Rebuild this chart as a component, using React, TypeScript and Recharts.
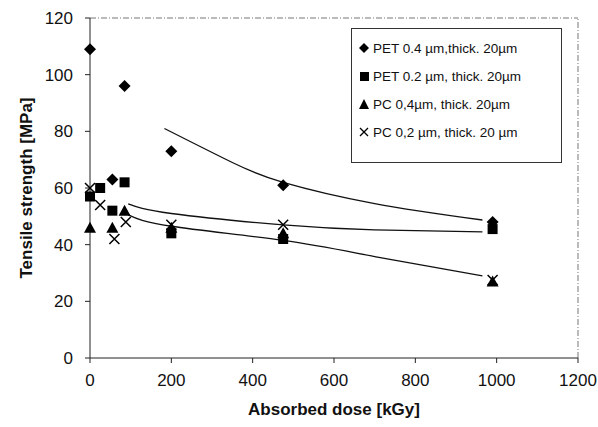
import { ComposedChart, Scatter, Line, XAxis, YAxis, ReferenceLine } from 'recharts';

const pet04Dose = [0, 55, 85, 200, 475, 990];
const pet04Strength = [109, 63, 96, 73, 61, 48];

const pet02Dose = [0, 25, 55, 85, 200, 475, 990];
const pet02Strength = [57, 60, 52, 62, 44, 42, 45.5];

const pc04Dose = [0, 55, 85, 200, 475, 990];
const pc04Strength = [46, 46, 52, 46, 44, 27];

const pc02Dose = [0, 25, 60, 88, 200, 475, 990];
const pc02Strength = [60, 54, 42, 48, 47, 47, 27.5];

// trend lines as drawn in the figure
const trendTopDose = [183, 350, 475, 700, 965];
const trendTopValue = [81, 69, 62, 54.5, 48.7];
const trendMidDose = [94, 200, 475, 700, 965];
const trendMidValue = [54.4, 51, 47, 45.2, 44.5];
const trendLowDose = [94, 200, 475, 700, 965];
const trendLowValue = [50.5, 46.5, 41.5, 35.8, 29];

const xTicks = [0, 200, 400, 600, 800, 1000, 1200];
const yTicks = [0, 20, 40, 60, 80, 100, 120];

const legendLabels = [
  'PET 0.4 µm,thick. 20µm',
  'PET 0.2 µm, thick. 20µm',
  'PC 0,4µm, thick. 20µm',
  'PC 0,2 µm, thick. 20 µm',
];

const zip = (xs: number[], ys: number[]) => xs.map((x, i) => ({ x, y: ys[i] }));

const FONT = 'Liberation Sans, Arial, sans-serif';

const Diamond = ({ cx, cy }: any) => (
  <path d={`M${cx},${cy - 6} L${cx + 6},${cy} L${cx},${cy + 6} L${cx - 6},${cy} Z`} fill="#000" />
);
const Square = ({ cx, cy }: any) => <rect x={cx - 5} y={cy - 5} width={10} height={10} fill="#000" />;
const Triangle = ({ cx, cy }: any) => (
  <path d={`M${cx},${cy - 6} L${cx + 6},${cy + 5} L${cx - 6},${cy + 5} Z`} fill="#000" />
);
const Cross = ({ cx, cy }: any) => (
  <path d={`M${cx - 5},${cy - 5} L${cx + 5},${cy + 5} M${cx + 5},${cy - 5} L${cx - 5},${cy + 5}`} stroke="#000" strokeWidth={1.5} />
);

const legendIcons = [
  <path d="M5,0 L10,5 L5,10 L0,5 Z" fill="#000" />,
  <rect x={1} y={1} width={9} height={9} fill="#000" />,
  <path d="M5,0 L10,10 L0,10 Z" fill="#000" />,
  <path d="M1,1 L9,9 M9,1 L1,9" stroke="#000" strokeWidth={1.3} />,
];

const LegendBox = () => (
  <div
    style={{
      position: 'absolute',
      left: 351,
      top: 28,
      border: '1px solid #333',
      background: '#fff',
      width: 211,
      height: 135,
      boxSizing: 'border-box',
      padding: '5px 0 0 7px',
      fontFamily: FONT,
      fontSize: 13.5,
      color: '#111',
    }}
  >
    {legendLabels.map((label, i) => (
      <div key={label} style={{ display: 'flex', alignItems: 'center', height: 28 }}>
        <svg width={10} height={10} style={{ marginRight: 4 }}>
          {legendIcons[i]}
        </svg>
        <span>{label}</span>
      </div>
    ))}
  </div>
);

const App = () => {
  const tickStyle = { fontFamily: FONT, fontSize: 17, fill: '#111' };
  const labelStyle = { fontFamily: FONT, fontSize: 17, fontWeight: 'bold', fill: '#111' };
  return (
    <div style={{ position: 'fixed', left: 0, top: 0, width: 598, height: 427, background: '#fff' }}>
      <ComposedChart width={598} height={427} margin={{ top: 18, right: 20, bottom: 0, left: 0 }}>
        <XAxis
          type="number"
          dataKey="x"
          domain={[0, 1200]}
          ticks={xTicks}
          tick={tickStyle}
          tickSize={5}
          tickMargin={11}
          stroke="#222"
          height={69}
          label={{ value: 'Absorbed dose [kGy]', position: 'insideBottom', offset: 12, style: labelStyle }}
        />
        <YAxis
          type="number"
          domain={[0, 120]}
          ticks={yTicks}
          tick={tickStyle}
          tickSize={5}
          tickMargin={12}
          stroke="#222"
          width={90}
          label={{ value: 'Tensile strength [MPa]', angle: -90, position: 'insideLeft', offset: 26, style: { ...labelStyle, textAnchor: 'middle' } }}
        />
        <ReferenceLine y={120} stroke="#777" strokeDasharray="6 2 1 2" />
        <ReferenceLine x={1200} stroke="#777" strokeDasharray="6 2 1 2" />
        <Line data={zip(trendTopDose, trendTopValue)} dataKey="y" type="natural" stroke="#111" strokeWidth={1.3} dot={false} isAnimationActive={false} />
        <Line data={zip(trendMidDose, trendMidValue)} dataKey="y" type="natural" stroke="#111" strokeWidth={1.3} dot={false} isAnimationActive={false} />
        <Line data={zip(trendLowDose, trendLowValue)} dataKey="y" type="natural" stroke="#111" strokeWidth={1.3} dot={false} isAnimationActive={false} />
        <Scatter name={legendLabels[0]} data={zip(pet04Dose, pet04Strength)} dataKey="y" shape={<Diamond />} isAnimationActive={false} />
        <Scatter name={legendLabels[1]} data={zip(pet02Dose, pet02Strength)} dataKey="y" shape={<Square />} isAnimationActive={false} />
        <Scatter name={legendLabels[2]} data={zip(pc04Dose, pc04Strength)} dataKey="y" shape={<Triangle />} isAnimationActive={false} />
        <Scatter name={legendLabels[3]} data={zip(pc02Dose, pc02Strength)} dataKey="y" shape={<Cross />} isAnimationActive={false} />
      </ComposedChart>
      <LegendBox />
    </div>
  );
};

export default App;
